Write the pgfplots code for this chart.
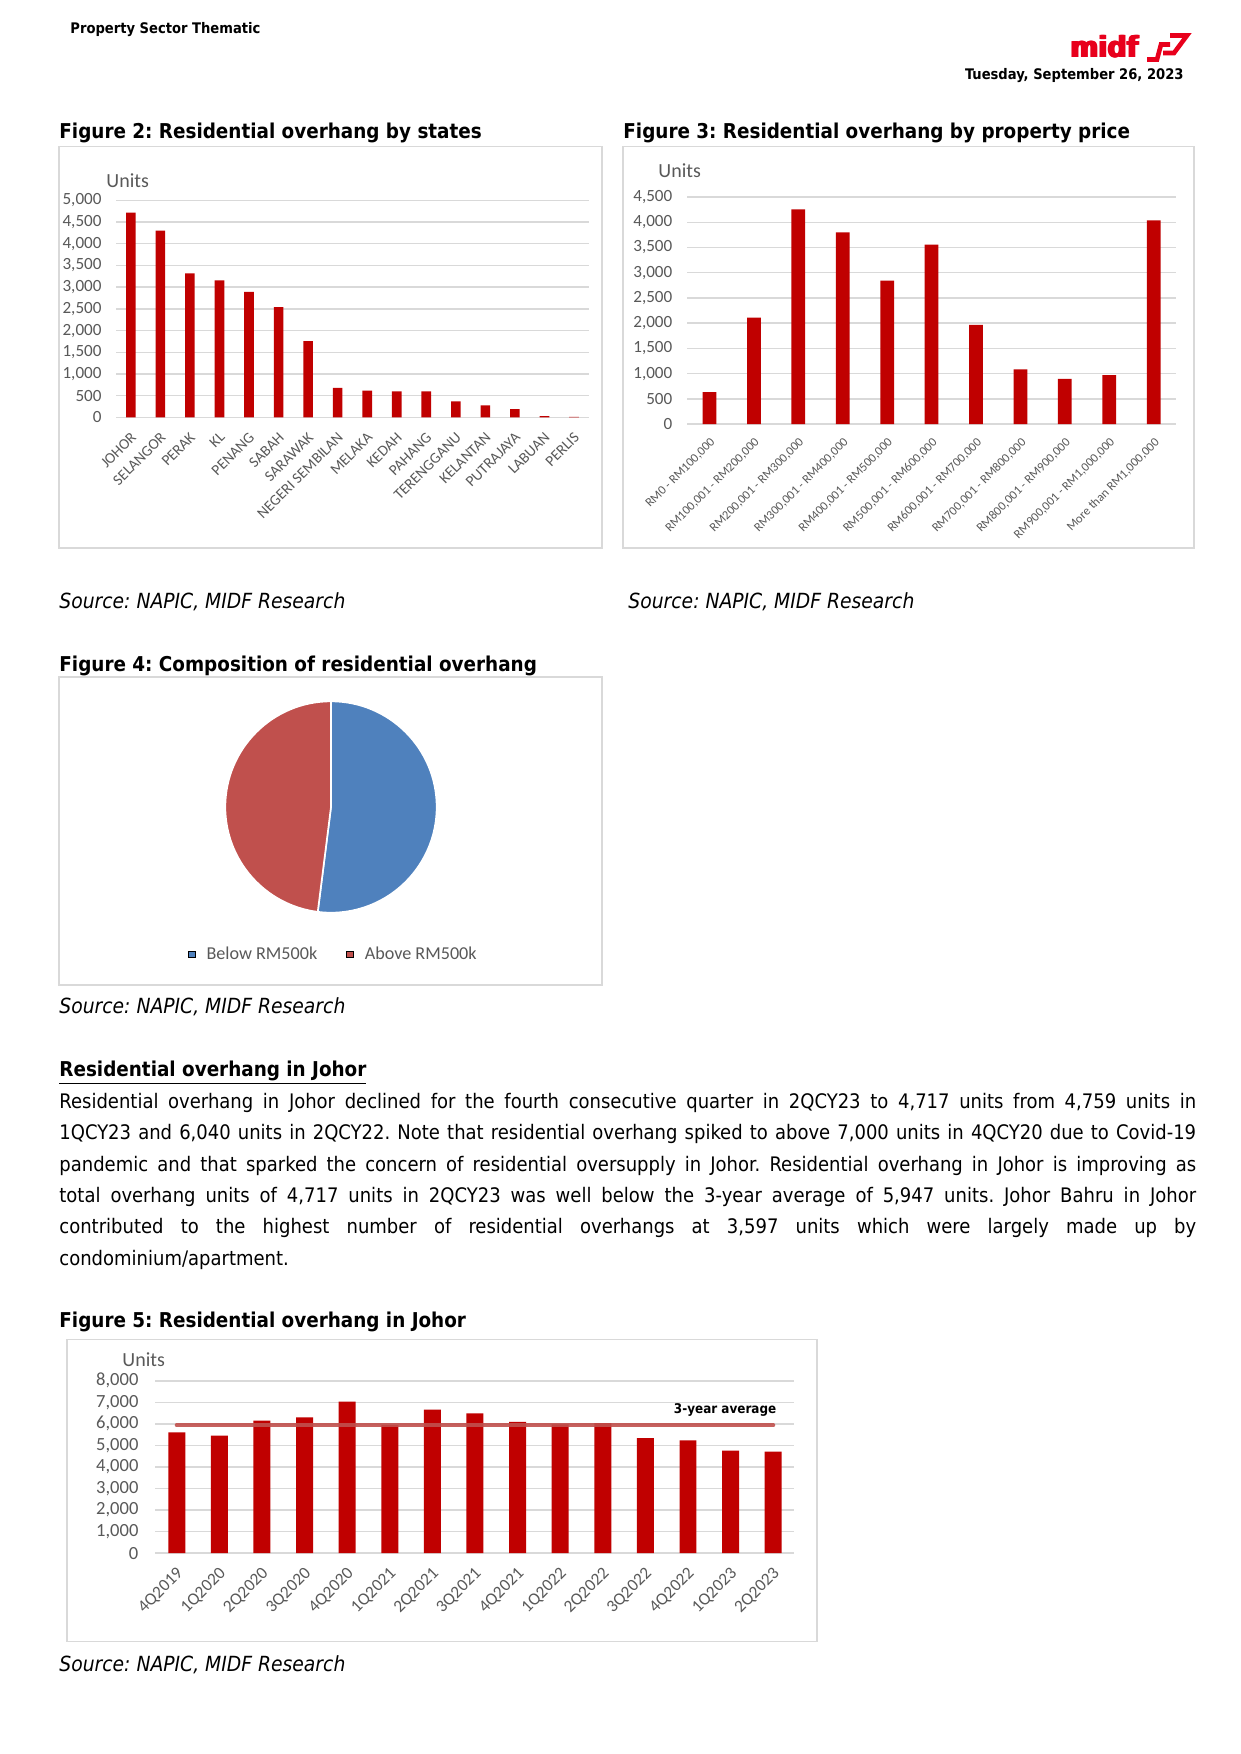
\documentclass[border=0pt]{standalone}
\usepackage{pgfplots}
\pgfplotsset{compat=1.18}
\usepackage{fontspec}
\setmainfont{DejaVu Sans Condensed}
\newfontfamily\carlito{Carlito}
\definecolor{barred}{HTML}{C00000}
\definecolor{pieblue}{HTML}{4F81BD}
\definecolor{piered}{HTML}{C0504D}
\definecolor{gridgray}{HTML}{D9D9D9}
\definecolor{boxgray}{HTML}{D9D9D9}
\definecolor{labgray}{HTML}{595959}
\definecolor{logored}{HTML}{E8001C}
\definecolor{avgcol}{HTML}{C0504D}

\pgfplotsset{
  excelbar/.style={
    scale only axis, anchor=south west,
    axis line style={draw=none},
    major tick length=0pt, tick style={draw=none},
    ymajorgrids, grid style={draw=gridgray, line width=0.7pt},
    ymin=0, clip=false,
    xtick=data,
    scaled y ticks=false,
    /pgf/number format/assume math mode=true,
    /pgf/number format/1000 sep={,},
    tick label style={text=labgray},
    yticklabel style={anchor=east, inner sep=0pt},
  }
}
\newcommand{\linebox}[1]{\makebox[545.4pt][s]{#1}}
\frenchspacing
\begin{document}
\frenchspacing
\begin{tikzpicture}[x=0.4797pt,y=-0.4797pt]
\fill[white] (0,0) rectangle (1241,1754);
\useasboundingbox (0,0) rectangle (1241,1754);

% header
\node[anchor=base west, inner sep=0pt, font=\bfseries\fontsize{7}{8}\selectfont] at (70,34) {Property Sector Thematic};
\node[anchor=base east, inner sep=0pt, font=\bfseries\fontsize{7}{8}\selectfont] at (1184,80) {Tuesday, September 26, 2023};
\foreach \dx in {0,0.7,1.4,2.1}{
  \node[anchor=base west, inner sep=0pt, text=logored] at (1069+\dx,58) {\resizebox{32.6pt}{10.6pt}{\bfseries midf}};
}
\draw[logored, line width=2.2pt, line join=miter] (1147,59.5) -- (1157,59.5) -- (1161,44.5) -- (1170,44.5);
\draw[logored, line width=2.2pt, line join=miter] (1170,35.5) -- (1187,35.5) -- (1174,53) -- (1163,53);

% titles
\node[anchor=base west, inner sep=0pt, font=\bfseries\fontsize{9.8}{11}\selectfont] at (59,138.5) {Figure 2: Residential overhang by states};
\node[anchor=base west, inner sep=0pt, font=\bfseries\fontsize{9.8}{11}\selectfont] at (623,138.5) {Figure 3: Residential overhang by property price};
\node[anchor=base west, inner sep=0pt, font=\bfseries\fontsize{9.8}{11}\selectfont] at (59,671) {Figure 4: Composition of residential overhang};
\node[anchor=base west, inner sep=0pt, font=\bfseries\fontsize{9.8}{11}\selectfont] at (59,1327) {Figure 5: Residential overhang in Johor};

% sources
\node[anchor=base west, inner sep=0pt, font=\itshape\fontsize{10}{11}\selectfont] at (59,608.5) {Source: NAPIC, MIDF Research};
\node[anchor=base west, inner sep=0pt, font=\itshape\fontsize{10}{11}\selectfont] at (628,608.5) {Source: NAPIC, MIDF Research};
\node[anchor=base west, inner sep=0pt, font=\itshape\fontsize{10}{11}\selectfont] at (59,1013.5) {Source: NAPIC, MIDF Research};
\node[anchor=base west, inner sep=0pt, font=\itshape\fontsize{10}{11}\selectfont] at (59,1671.5) {Source: NAPIC, MIDF Research};

% boxes
\draw[boxgray, line width=0.8pt] (59.3,146.6) rectangle (602,548.3);
\draw[boxgray, line width=0.8pt] (623,146.6) rectangle (1194,548.3);
\draw[boxgray, line width=0.8pt] (59.3,677) rectangle (602,985);
\draw[boxgray, line width=0.8pt] (67,1339.5) rectangle (817,1641.6);

% Units labels
\node[anchor=base west, inner sep=0pt, text=labgray, font=\carlito\fontsize{9.6}{10}\selectfont] at (106,187.7) {Units};
\node[anchor=base west, inner sep=0pt, text=labgray, font=\carlito\fontsize{9.6}{10}\selectfont] at (658,177.6) {Units};
\node[anchor=base west, inner sep=0pt, text=labgray, font=\carlito\fontsize{9.6}{10}\selectfont] at (122,1366) {Units};

% Figure 2
\begin{axis}[excelbar,
  at={(55.69pt,-200.23pt)}, width=226.75pt, height=104.14pt,
  xmin=-0.5, xmax=15.5, ymax=5000, ytick={0,500,...,5000},
  yticklabel style={xshift=-6.8pt, font=\carlito\fontsize{8.2}{9}\selectfont},
  xticklabels={JOHOR,SELANGOR,PERAK,KL,PENANG,SABAH,SARAWAK,NEGERI SEMBILAN,MELAKA,KEDAH,PAHANG,TERENGGANU,KELANTAN,PUTRAJAYA,LABUAN,PERLIS},
  xticklabel style={xshift=-0.4pt, yshift=-6.5pt, rotate=45, anchor=north east, inner sep=0pt, font=\carlito\fontsize{7.3}{8}\selectfont},
]
\addplot[ybar, bar width=4.6pt, bar shift=0pt, fill=barred, draw=none] coordinates {
(0,4717) (1,4300) (2,3320) (3,3159) (4,2889) (5,2542) (6,1757) (7,678)
(8,616) (9,601) (10,601) (11,370) (12,277) (13,193) (14,31) (15,15)};
\end{axis}

% Figure 3
\begin{axis}[excelbar,
  at={(329.70pt,-203.44pt)}, width=234.38pt, height=108.94pt,
  xmin=-0.5, xmax=10.5, ymax=4500, ytick={0,500,...,4500},
  yticklabel style={xshift=-7pt, font=\carlito\fontsize{8.2}{9}\selectfont},
  xticklabels={{RM0 - RM100,000},{RM100,001 - RM200,000},{RM200,001 - RM300,000},{RM300,001 - RM400,000},{RM400,001 - RM500,000},{RM500,001 - RM600,000},{RM600,001 - RM700,000},{RM700,001 - RM800,000},{RM800,001 - RM900,000},{RM900,001 - RM1,000,000},{More than RM1,000,000}},
  xticklabel style={xshift=0pt, yshift=-6pt, rotate=45, anchor=north east, inner sep=0pt, font=\carlito\fontsize{6.0}{7}\selectfont},
]
\addplot[ybar, bar width=6.6pt, bar shift=0pt, fill=barred, draw=none] coordinates {
(0,633) (1,2111) (2,4256) (3,3800) (4,2844) (5,3556) (6,1966) (7,1082) (8,897) (9,970) (10,4038)};
\end{axis}

% Figure 4 pie
\pgfmathsetmacro{\below}{52}
\pgfmathsetmacro{\above}{48}
\pgfmathsetmacro{\angB}{\below/(\below+\above)*360}
\pgfmathsetmacro{\angA}{\above/(\below+\above)*360}
\begin{axis}[
  at={(158.78pt,-387.12pt)}, anchor=center, scale only axis,
  width=101.4pt, height=101.4pt, xmin=-1, xmax=1, ymin=-1, ymax=1,
  hide axis, clip=false,
  legend style={at={(0.5166,-0.198)}, anchor=center, draw=none, fill=none,
    legend columns=2, font=\carlito\fontsize{8.7}{10}\selectfont, text=labgray,
    /tikz/every even column/.append style={column sep=12pt}},
  legend image code/.code={\fill[#1] (0pt,-1.6pt) rectangle (3.2pt,1.6pt); \path (6.4pt,0pt);},
]
\addlegendimage{fill=pieblue}
\addlegendentry{Below RM500k}
\addlegendimage{fill=piered}
\addlegendentry{Above RM500k}
\filldraw[fill=pieblue, draw=white, line width=0.8pt] (axis cs:0,0) -- (axis cs:0,1) arc[start angle=90, delta angle=-\angB, radius=50.7pt] -- cycle;
\filldraw[fill=piered, draw=white, line width=0.8pt] (axis cs:0,0) -- (axis cs:0,1) arc[start angle=90, delta angle=\angA, radius=50.7pt] -- cycle;
\end{axis}

% heading + paragraph
\node[anchor=base west, inner sep=0pt, font=\bfseries\fontsize{9.8}{11}\selectfont] at (59,1076) {\underline{Residential overhang in Johor}};
\begin{scope}[every node/.style={anchor=base west, inner sep=0pt, font=\fontsize{9.6}{11}\selectfont}]
\node at (59,1108) {\linebox{Residential overhang in Johor declined for the fourth consecutive quarter in 2QCY23 to 4,717 units from 4,759 units in}};
\node at (59,1139.5) {\linebox{1QCY23 and 6,040 units in 2QCY22. Note that residential overhang spiked to above 7,000 units in 4QCY20 due to Covid-19}};
\node at (59,1171) {\linebox{pandemic and that sparked the concern of residential oversupply in Johor. Residential overhang in Johor is improving as}};
\node at (59,1202.3) {\linebox{total overhang units of 4,717 units in 2QCY23 was well below the 3-year average of 5,947 units. Johor Bahru in Johor}};
\node at (59,1233.7) {\linebox{contributed to the highest number of residential overhangs at 3,597 units which were largely made up by}};
\node at (59,1265) {condominium/apartment.};
\end{scope}

% Figure 5
\begin{axis}[excelbar,
  at={(74.59pt,-745.07pt)}, width=306.53pt, height=82.70pt,
  xmin=-0.5, xmax=14.5, ymax=8000, ytick={0,1000,...,8000},
  yticklabel style={xshift=-8pt, font=\carlito\fontsize{8.9}{10}\selectfont},
  xticklabels={4Q2019,1Q2020,2Q2020,3Q2020,4Q2020,1Q2021,2Q2021,3Q2021,4Q2021,1Q2022,2Q2022,3Q2022,4Q2022,1Q2023,2Q2023},
  xticklabel style={xshift=-0.5pt, yshift=-6pt, rotate=45, anchor=north east, inner sep=0pt, font=\carlito\fontsize{8.3}{9}\selectfont},
]
\addplot[ybar, bar width=8.15pt, bar shift=0pt, fill=barred, draw=none] coordinates {
(0,5607) (1,5452) (2,6150) (3,6306) (4,7036) (5,5960) (6,6663) (7,6492)
(8,6088) (9,5980) (10,6040) (11,5343) (12,5234) (13,4759) (14,4717)};
\addplot[sharp plot, no marks, avgcol, line width=2pt, line cap=round, opacity=0.9] coordinates {(0,5947) (14,5947)};
\end{axis}
\node[anchor=base east, inner sep=0pt, font=\bfseries\fontsize{6.4}{7}\selectfont] at (776.7,1413) {3-year average};

\end{tikzpicture}
\end{document}
